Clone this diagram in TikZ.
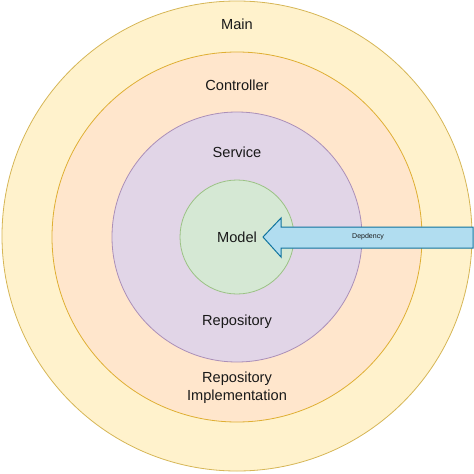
\documentclass[tikz,border=0pt]{standalone}
\usepackage{fontspec}
\setmainfont{Liberation Sans}
\definecolor{mainfill}{HTML}{FFF2CC}
\definecolor{mainline}{HTML}{D6B656}
\definecolor{ctrlfill}{HTML}{FFE6CC}
\definecolor{ctrlline}{HTML}{D79B00}
\definecolor{svcfill}{HTML}{E1D5E7}
\definecolor{svcline}{HTML}{9673A6}
\definecolor{modfill}{HTML}{D5E8D4}
\definecolor{modline}{HTML}{82B366}
\definecolor{arrfill}{HTML}{B1DDF0}
\definecolor{arrline}{HTML}{10739E}
\begin{document}
\begin{tikzpicture}[x=1pt,y=-1pt,
  ring/.style={circle,inner sep=0pt,line width=0.8pt},
  lbl/.style={font=\fontsize{14.6}{18}\selectfont,text=black!90,align=center}]
\useasboundingbox (0,0) rectangle (474,474);
\node[ring,draw=mainline,fill=mainfill,minimum size=470pt] (main) at (237,236) {};
\node[ring,draw=ctrlline!80,fill=ctrlfill,minimum size=370pt] (ctrl) at (237,237) {};
\node[ring,draw=svcline!80,fill=svcfill,minimum size=250pt] (svc) at (237,237) {};
\node[ring,draw=modline!80,fill=modfill,minimum size=114pt] (model) at (237,237) {};
\node[lbl] (tmain) at (237,24) {Main};
\node[lbl] (tctrl) at (237,85) {Controller};
\node[lbl] (tsvc) at (237,152) {Service};
\node[lbl] (tmodel) at (237,237) {Model};
\node[lbl] (trepo) at (237,322) {Repository};
\node[lbl] (timpl) at (237,388) {Repository\\Implementation};
\coordinate (tip) at (263,237);
\draw[draw=arrline,fill=arrfill,line width=1pt,line join=miter]
  (tip) -- (281,218) -- (281,227) -- (473,227) -- (473,248) -- (281,248) -- (281,257) -- cycle;
\node[font=\fontsize{7}{8}\selectfont,text=black!90] (dep) at (368,237) {Depdency};
\end{tikzpicture}
\end{document}
